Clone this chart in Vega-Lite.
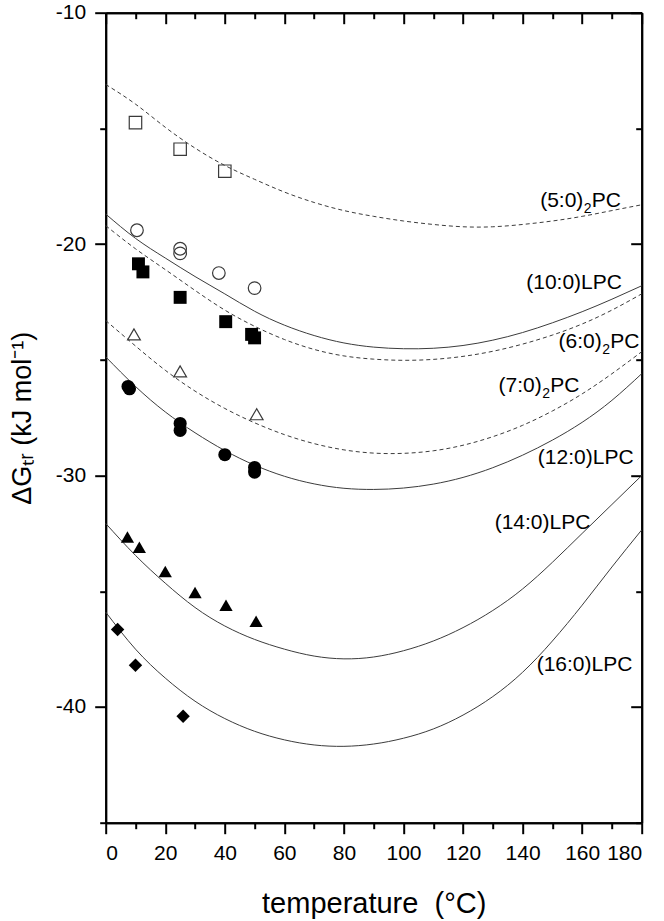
{
  "$schema": "https://vega.github.io/schema/vega-lite/v6.json",
  "width": 536,
  "height": 810,
  "autosize": {"type": "none"},
  "padding": {"left": 105.7, "top": 12.7, "right": 22.3, "bottom": 98.3},
  "background": "white",
  "config": {
    "view": {"stroke": null},
    "font": "Liberation Sans",
    "axis": {
      "grid": false,
      "domainColor": "black",
      "domainWidth": 2,
      "tickColor": "black",
      "tickWidth": 2,
      "labelColor": "black",
      "labelFont": "Liberation Sans",
      "labelFontSize": 21,
      "titleFont": "Liberation Sans",
      "titleFontWeight": "normal",
      "titleColor": "black",
      "titleFontSize": 26
    }
  },
  "datasets": {
    "curves": [
      {"series": "(5:0)2PC", "x": 0, "y": -13.1}, {"series": "(5:0)2PC", "x": 10, "y": -13.95}, {"series": "(5:0)2PC", "x": 20, "y": -14.95}, {"series": "(5:0)2PC", "x": 30, "y": -15.85}, {"series": "(5:0)2PC", "x": 40, "y": -16.6}, {"series": "(5:0)2PC", "x": 50, "y": -17.2}, {"series": "(5:0)2PC", "x": 60, "y": -17.75}, {"series": "(5:0)2PC", "x": 70, "y": -18.2}, {"series": "(5:0)2PC", "x": 80, "y": -18.55}, {"series": "(5:0)2PC", "x": 90, "y": -18.8}, {"series": "(5:0)2PC", "x": 100, "y": -19.0}, {"series": "(5:0)2PC", "x": 110, "y": -19.15}, {"series": "(5:0)2PC", "x": 120, "y": -19.25}, {"series": "(5:0)2PC", "x": 130, "y": -19.25}, {"series": "(5:0)2PC", "x": 140, "y": -19.15}, {"series": "(5:0)2PC", "x": 150, "y": -19.0}, {"series": "(5:0)2PC", "x": 160, "y": -18.8}, {"series": "(5:0)2PC", "x": 170, "y": -18.55}, {"series": "(5:0)2PC", "x": 180, "y": -18.3},
      {"series": "(10:0)LPC", "x": 0, "y": -18.7}, {"series": "(10:0)LPC", "x": 10, "y": -19.75}, {"series": "(10:0)LPC", "x": 20, "y": -20.6}, {"series": "(10:0)LPC", "x": 30, "y": -21.4}, {"series": "(10:0)LPC", "x": 40, "y": -22.15}, {"series": "(10:0)LPC", "x": 50, "y": -22.9}, {"series": "(10:0)LPC", "x": 60, "y": -23.5}, {"series": "(10:0)LPC", "x": 70, "y": -23.95}, {"series": "(10:0)LPC", "x": 80, "y": -24.27}, {"series": "(10:0)LPC", "x": 90, "y": -24.45}, {"series": "(10:0)LPC", "x": 100, "y": -24.52}, {"series": "(10:0)LPC", "x": 110, "y": -24.5}, {"series": "(10:0)LPC", "x": 120, "y": -24.38}, {"series": "(10:0)LPC", "x": 130, "y": -24.15}, {"series": "(10:0)LPC", "x": 140, "y": -23.82}, {"series": "(10:0)LPC", "x": 150, "y": -23.4}, {"series": "(10:0)LPC", "x": 160, "y": -22.92}, {"series": "(10:0)LPC", "x": 170, "y": -22.38}, {"series": "(10:0)LPC", "x": 180, "y": -21.8},
      {"series": "(6:0)2PC", "x": 0, "y": -19.2}, {"series": "(6:0)2PC", "x": 10, "y": -20.2}, {"series": "(6:0)2PC", "x": 20, "y": -21.1}, {"series": "(6:0)2PC", "x": 30, "y": -22.0}, {"series": "(6:0)2PC", "x": 40, "y": -22.85}, {"series": "(6:0)2PC", "x": 50, "y": -23.55}, {"series": "(6:0)2PC", "x": 60, "y": -24.12}, {"series": "(6:0)2PC", "x": 70, "y": -24.55}, {"series": "(6:0)2PC", "x": 80, "y": -24.83}, {"series": "(6:0)2PC", "x": 90, "y": -24.97}, {"series": "(6:0)2PC", "x": 100, "y": -25.02}, {"series": "(6:0)2PC", "x": 110, "y": -24.98}, {"series": "(6:0)2PC", "x": 120, "y": -24.85}, {"series": "(6:0)2PC", "x": 130, "y": -24.63}, {"series": "(6:0)2PC", "x": 140, "y": -24.32}, {"series": "(6:0)2PC", "x": 150, "y": -23.93}, {"series": "(6:0)2PC", "x": 160, "y": -23.45}, {"series": "(6:0)2PC", "x": 170, "y": -22.85}, {"series": "(6:0)2PC", "x": 180, "y": -22.15},
      {"series": "(7:0)2PC", "x": 0, "y": -23.3}, {"series": "(7:0)2PC", "x": 10, "y": -24.4}, {"series": "(7:0)2PC", "x": 20, "y": -25.45}, {"series": "(7:0)2PC", "x": 30, "y": -26.35}, {"series": "(7:0)2PC", "x": 40, "y": -27.1}, {"series": "(7:0)2PC", "x": 50, "y": -27.72}, {"series": "(7:0)2PC", "x": 60, "y": -28.23}, {"series": "(7:0)2PC", "x": 70, "y": -28.62}, {"series": "(7:0)2PC", "x": 80, "y": -28.89}, {"series": "(7:0)2PC", "x": 90, "y": -29.03}, {"series": "(7:0)2PC", "x": 100, "y": -29.04}, {"series": "(7:0)2PC", "x": 110, "y": -28.93}, {"series": "(7:0)2PC", "x": 120, "y": -28.69}, {"series": "(7:0)2PC", "x": 130, "y": -28.32}, {"series": "(7:0)2PC", "x": 140, "y": -27.83}, {"series": "(7:0)2PC", "x": 150, "y": -27.21}, {"series": "(7:0)2PC", "x": 160, "y": -26.47}, {"series": "(7:0)2PC", "x": 170, "y": -25.6}, {"series": "(7:0)2PC", "x": 180, "y": -24.65},
      {"series": "(12:0)LPC", "x": 0, "y": -24.87}, {"series": "(12:0)LPC", "x": 10, "y": -26.15}, {"series": "(12:0)LPC", "x": 20, "y": -27.25}, {"series": "(12:0)LPC", "x": 30, "y": -28.15}, {"series": "(12:0)LPC", "x": 40, "y": -28.92}, {"series": "(12:0)LPC", "x": 50, "y": -29.55}, {"series": "(12:0)LPC", "x": 60, "y": -30.03}, {"series": "(12:0)LPC", "x": 70, "y": -30.36}, {"series": "(12:0)LPC", "x": 80, "y": -30.55}, {"series": "(12:0)LPC", "x": 90, "y": -30.6}, {"series": "(12:0)LPC", "x": 100, "y": -30.54}, {"series": "(12:0)LPC", "x": 110, "y": -30.37}, {"series": "(12:0)LPC", "x": 120, "y": -30.08}, {"series": "(12:0)LPC", "x": 130, "y": -29.66}, {"series": "(12:0)LPC", "x": 140, "y": -29.12}, {"series": "(12:0)LPC", "x": 150, "y": -28.47}, {"series": "(12:0)LPC", "x": 160, "y": -27.7}, {"series": "(12:0)LPC", "x": 170, "y": -26.75}, {"series": "(12:0)LPC", "x": 180, "y": -25.6},
      {"series": "(14:0)LPC", "x": 0, "y": -32.07}, {"series": "(14:0)LPC", "x": 10, "y": -33.45}, {"series": "(14:0)LPC", "x": 20, "y": -34.65}, {"series": "(14:0)LPC", "x": 30, "y": -35.7}, {"series": "(14:0)LPC", "x": 40, "y": -36.5}, {"series": "(14:0)LPC", "x": 50, "y": -37.08}, {"series": "(14:0)LPC", "x": 60, "y": -37.5}, {"series": "(14:0)LPC", "x": 70, "y": -37.8}, {"series": "(14:0)LPC", "x": 80, "y": -37.92}, {"series": "(14:0)LPC", "x": 90, "y": -37.84}, {"series": "(14:0)LPC", "x": 100, "y": -37.57}, {"series": "(14:0)LPC", "x": 110, "y": -37.15}, {"series": "(14:0)LPC", "x": 120, "y": -36.57}, {"series": "(14:0)LPC", "x": 130, "y": -35.83}, {"series": "(14:0)LPC", "x": 140, "y": -34.9}, {"series": "(14:0)LPC", "x": 150, "y": -33.75}, {"series": "(14:0)LPC", "x": 160, "y": -32.5}, {"series": "(14:0)LPC", "x": 170, "y": -31.25}, {"series": "(14:0)LPC", "x": 180, "y": -30.0},
      {"series": "(16:0)LPC", "x": 0, "y": -35.9}, {"series": "(16:0)LPC", "x": 10, "y": -37.5}, {"series": "(16:0)LPC", "x": 20, "y": -38.75}, {"series": "(16:0)LPC", "x": 30, "y": -39.75}, {"series": "(16:0)LPC", "x": 40, "y": -40.5}, {"series": "(16:0)LPC", "x": 50, "y": -41.05}, {"series": "(16:0)LPC", "x": 60, "y": -41.42}, {"series": "(16:0)LPC", "x": 70, "y": -41.64}, {"series": "(16:0)LPC", "x": 80, "y": -41.7}, {"series": "(16:0)LPC", "x": 90, "y": -41.6}, {"series": "(16:0)LPC", "x": 100, "y": -41.35}, {"series": "(16:0)LPC", "x": 110, "y": -40.95}, {"series": "(16:0)LPC", "x": 120, "y": -40.35}, {"series": "(16:0)LPC", "x": 130, "y": -39.55}, {"series": "(16:0)LPC", "x": 140, "y": -38.5}, {"series": "(16:0)LPC", "x": 150, "y": -37.15}, {"series": "(16:0)LPC", "x": 160, "y": -35.6}, {"series": "(16:0)LPC", "x": 170, "y": -33.95}, {"series": "(16:0)LPC", "x": 180, "y": -32.35}
    ],
    "points": [
      {"series": "(5:0)2PC", "x": 10, "y": -14.75}, {"series": "(5:0)2PC", "x": 25, "y": -15.9}, {"series": "(5:0)2PC", "x": 40, "y": -16.85},
      {"series": "(10:0)LPC", "x": 10.5, "y": -19.4}, {"series": "(10:0)LPC", "x": 25, "y": -20.2}, {"series": "(10:0)LPC", "x": 25, "y": -20.4}, {"series": "(10:0)LPC", "x": 38, "y": -21.25}, {"series": "(10:0)LPC", "x": 50, "y": -21.9},
      {"series": "(7:0)2PC", "x": 9.5, "y": -23.9}, {"series": "(7:0)2PC", "x": 25, "y": -25.5}, {"series": "(7:0)2PC", "x": 50.7, "y": -27.35},
      {"series": "(6:0)2PC", "x": 11, "y": -20.85}, {"series": "(6:0)2PC", "x": 12.5, "y": -21.2}, {"series": "(6:0)2PC", "x": 25, "y": -22.3}, {"series": "(6:0)2PC", "x": 40.3, "y": -23.35}, {"series": "(6:0)2PC", "x": 49, "y": -23.9}, {"series": "(6:0)2PC", "x": 50, "y": -24.05},
      {"series": "(12:0)LPC", "x": 7.5, "y": -26.15}, {"series": "(12:0)LPC", "x": 8, "y": -26.25}, {"series": "(12:0)LPC", "x": 25, "y": -27.75}, {"series": "(12:0)LPC", "x": 25, "y": -28.05}, {"series": "(12:0)LPC", "x": 40, "y": -29.1}, {"series": "(12:0)LPC", "x": 50, "y": -29.65}, {"series": "(12:0)LPC", "x": 50, "y": -29.85},
      {"series": "(14:0)LPC", "x": 7.3, "y": -32.65}, {"series": "(14:0)LPC", "x": 11.3, "y": -33.1}, {"series": "(14:0)LPC", "x": 20, "y": -34.15}, {"series": "(14:0)LPC", "x": 30, "y": -35.05}, {"series": "(14:0)LPC", "x": 40.4, "y": -35.6}, {"series": "(14:0)LPC", "x": 50.5, "y": -36.3},
      {"series": "(16:0)LPC", "x": 4, "y": -36.65}, {"series": "(16:0)LPC", "x": 10, "y": -38.2}, {"series": "(16:0)LPC", "x": 26, "y": -40.4}
    ],
    "lpcLabels": [
      {"text": "(10:0)LPC", "x": 157.3, "y": -21.96},
      {"text": "(12:0)LPC", "x": 161.2, "y": -29.48},
      {"text": "(14:0)LPC", "x": 146.7, "y": -32.29},
      {"text": "(16:0)LPC", "x": 160.8, "y": -38.45}
    ],
    "pcLabels": [
      {"text": "(5:0)", "x": 160.4, "y": -18.4},
      {"text": "(6:0)", "x": 166.6, "y": -24.5},
      {"text": "(7:0)", "x": 146.4, "y": -26.39}
    ]
  },
  "resolve": {"axis": {"x": "independent", "y": "independent"}},
  "layer": [
    {
      "data": {"name": "curves"},
      "transform": [{"filter": "indexof(['(10:0)LPC','(12:0)LPC','(14:0)LPC','(16:0)LPC'], datum.series) >= 0"}],
      "mark": {"type": "line", "stroke": "#3c3c3c", "strokeWidth": 1, "interpolate": "natural"},
      "encoding": {
        "detail": {"field": "series"},
        "x": {"field": "x", "type": "quantitative", "scale": {"domain": [0, 180], "nice": false, "zero": false},
          "axis": {"orient": "bottom", "values": [0, 20, 40, 60, 80, 100, 120, 140, 160, 180], "tickSize": 11, "labelPadding": 9, "title": "temperature \u00a0(°C)", "titleFontSize": 29, "titlePadding": 26}},
        "y": {"field": "y", "type": "quantitative", "scale": {"domain": [-45, -10], "nice": false, "zero": false},
          "axis": {"orient": "left", "values": [-10, -20, -30, -40], "tickSize": 11, "labelPadding": 9, "labelExpr": "'' + datum.value", "title": "ΔGₜᵣ (kJ mol⁻¹)", "titleFontSize": 27, "titlePadding": 19}}
      }
    },
    {
      "data": {"name": "curves"},
      "transform": [{"filter": "indexof(['(5:0)2PC','(6:0)2PC','(7:0)2PC'], datum.series) >= 0"}],
      "mark": {"type": "line", "stroke": "#3c3c3c", "strokeWidth": 1, "strokeDash": [4, 3], "interpolate": "natural"},
      "encoding": {
        "detail": {"field": "series"},
        "x": {"field": "x", "type": "quantitative",
          "axis": {"orient": "bottom", "values": [10, 30, 50, 70, 90, 110, 130, 150, 170], "tickSize": 6, "labels": false, "title": null}},
        "y": {"field": "y", "type": "quantitative",
          "axis": {"orient": "left", "values": [-15, -25, -35, -45], "tickSize": 6, "labels": false, "title": null}}
      }
    },
    {
      "data": {"name": "points"},
      "transform": [{"filter": "indexof(['(5:0)2PC','(10:0)LPC','(7:0)2PC'], datum.series) >= 0"}],
      "mark": {"type": "point", "filled": false, "stroke": "#3a3a3a", "strokeWidth": 1.2, "opacity": 1},
      "encoding": {
        "x": {"field": "x", "type": "quantitative",
          "axis": {"orient": "top", "values": [0, 20, 40, 60, 80, 100, 120, 140, 160, 180], "tickSize": -11, "labels": false, "title": null}},
        "y": {"field": "y", "type": "quantitative",
          "axis": {"orient": "right", "values": [-10, -20, -30, -40], "tickSize": -11, "labels": false, "title": null}},
        "shape": {"field": "series", "type": "nominal", "legend": null,
          "scale": {"domain": ["(5:0)2PC", "(10:0)LPC", "(7:0)2PC", "(6:0)2PC", "(12:0)LPC", "(14:0)LPC", "(16:0)LPC"], "range": ["square", "circle", "triangle-up", "square", "circle", "triangle-up", "diamond"]}},
        "size": {"field": "series", "type": "nominal", "legend": null,
          "scale": {"domain": ["(5:0)2PC", "(10:0)LPC", "(7:0)2PC", "(6:0)2PC", "(12:0)LPC", "(14:0)LPC", "(16:0)LPC"], "range": [155, 180, 270, 185, 205, 260, 270]}}
      }
    },
    {
      "data": {"name": "points"},
      "transform": [{"filter": "indexof(['(6:0)2PC','(12:0)LPC','(14:0)LPC','(16:0)LPC'], datum.series) >= 0"}],
      "mark": {"type": "point", "filled": true, "fill": "black", "opacity": 1},
      "encoding": {
        "x": {"field": "x", "type": "quantitative",
          "axis": {"orient": "top", "values": [10, 30, 50, 70, 90, 110, 130, 150, 170], "tickSize": -6, "labels": false, "title": null}},
        "y": {"field": "y", "type": "quantitative",
          "axis": {"orient": "right", "values": [-15, -25, -35, -45], "tickSize": -6, "labels": false, "title": null}},
        "shape": {"field": "series", "type": "nominal", "legend": null},
        "size": {"field": "series", "type": "nominal", "legend": null}
      }
    },
    {
      "data": {"name": "lpcLabels"},
      "mark": {"type": "text", "align": "center", "baseline": "alphabetic", "fontSize": 21, "font": "Liberation Sans", "color": "black"},
      "encoding": {
        "x": {"field": "x", "type": "quantitative", "axis": null},
        "y": {"field": "y", "type": "quantitative", "axis": null},
        "text": {"field": "text"}
      }
    },
    {
      "data": {"name": "pcLabels"},
      "mark": {"type": "text", "align": "right", "baseline": "alphabetic", "fontSize": 21, "font": "Liberation Sans", "color": "black"},
      "encoding": {
        "x": {"field": "x", "type": "quantitative", "axis": null},
        "y": {"field": "y", "type": "quantitative", "axis": null},
        "text": {"field": "text"}
      }
    },
    {
      "data": {"name": "pcLabels"},
      "mark": {"type": "text", "align": "left", "baseline": "alphabetic", "fontSize": 14, "dx": 0.5, "dy": 6, "font": "Liberation Sans", "color": "black", "text": "2"},
      "encoding": {
        "x": {"field": "x", "type": "quantitative", "axis": null},
        "y": {"field": "y", "type": "quantitative", "axis": null}
      }
    },
    {
      "data": {"name": "pcLabels"},
      "mark": {"type": "text", "align": "left", "baseline": "alphabetic", "fontSize": 21, "dx": 8.5, "font": "Liberation Sans", "color": "black", "text": "PC"},
      "encoding": {
        "x": {"field": "x", "type": "quantitative", "axis": null},
        "y": {"field": "y", "type": "quantitative", "axis": null}
      }
    }
  ]
}
